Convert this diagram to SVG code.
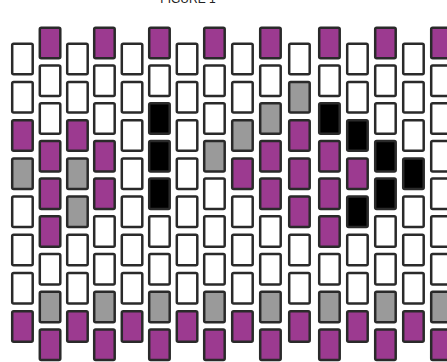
<svg xmlns="http://www.w3.org/2000/svg" width="447" height="362" viewBox="0 0 447 362">
<style>
rect{stroke:#2a2a2a;stroke-width:2.5;width:20.5px;height:30.5px;rx:1.5px}
.w{fill:#ffffff}
.p{fill:#9c3a90}
.g{fill:#9a9a9a}
.b{fill:#000000}
.t{font-family:"Liberation Sans",Arial,sans-serif;font-size:12px;fill:#222;text-anchor:middle}
</style>
<rect width="447" height="362" style="fill:#fff;stroke:none;width:447px;height:362px"/>
<text class="t" x="188" y="2.5">FIGURE 1</text>
<g id="col0"><rect class="w" x="12.2" y="43.8"/><rect class="w" x="12.2" y="82"/><rect class="p" x="12.2" y="120.2"/><rect class="g" x="12.2" y="158.4"/><rect class="w" x="12.2" y="196.6"/><rect class="w" x="12.2" y="234.8"/><rect class="w" x="12.2" y="273"/><rect class="p" x="12.2" y="311.2"/></g>
<g id="col1"><rect class="p" x="39.8" y="27.8"/><rect class="w" x="39.8" y="65.5"/><rect class="w" x="39.8" y="103.2"/><rect class="p" x="39.8" y="140.9"/><rect class="p" x="39.8" y="178.6"/><rect class="p" x="39.8" y="216.3"/><rect class="w" x="39.8" y="254"/><rect class="g" x="39.8" y="291.7"/><rect class="p" x="39.8" y="329.4"/></g>
<g id="col2"><rect class="w" x="67.2" y="43.8"/><rect class="w" x="67.2" y="82"/><rect class="p" x="67.2" y="120.2"/><rect class="g" x="67.2" y="158.4"/><rect class="g" x="67.2" y="196.6"/><rect class="w" x="67.2" y="234.8"/><rect class="w" x="67.2" y="273"/><rect class="p" x="67.2" y="311.2"/></g>
<g id="col3"><rect class="p" x="94.2" y="27.8"/><rect class="w" x="94.2" y="65.5"/><rect class="w" x="94.2" y="103.2"/><rect class="p" x="94.2" y="140.9"/><rect class="p" x="94.2" y="178.6"/><rect class="w" x="94.2" y="216.3"/><rect class="w" x="94.2" y="254"/><rect class="g" x="94.2" y="291.7"/><rect class="p" x="94.2" y="329.4"/></g>
<g id="col4"><rect class="w" x="121.8" y="43.8"/><rect class="w" x="121.8" y="82"/><rect class="w" x="121.8" y="120.2"/><rect class="w" x="121.8" y="158.4"/><rect class="w" x="121.8" y="196.6"/><rect class="w" x="121.8" y="234.8"/><rect class="w" x="121.8" y="273"/><rect class="p" x="121.8" y="311.2"/></g>
<g id="col5"><rect class="p" x="149.2" y="27.8"/><rect class="w" x="149.2" y="65.5"/><rect class="b" x="149.2" y="103.2"/><rect class="b" x="149.2" y="140.9"/><rect class="b" x="149.2" y="178.6"/><rect class="w" x="149.2" y="216.3"/><rect class="w" x="149.2" y="254"/><rect class="g" x="149.2" y="291.7"/><rect class="p" x="149.2" y="329.4"/></g>
<g id="col6"><rect class="w" x="176.8" y="43.8"/><rect class="w" x="176.8" y="82"/><rect class="w" x="176.8" y="120.2"/><rect class="w" x="176.8" y="158.4"/><rect class="w" x="176.8" y="196.6"/><rect class="w" x="176.8" y="234.8"/><rect class="w" x="176.8" y="273"/><rect class="p" x="176.8" y="311.2"/></g>
<g id="col7"><rect class="p" x="204.2" y="27.8"/><rect class="w" x="204.2" y="65.5"/><rect class="w" x="204.2" y="103.2"/><rect class="g" x="204.2" y="140.9"/><rect class="w" x="204.2" y="178.6"/><rect class="w" x="204.2" y="216.3"/><rect class="w" x="204.2" y="254"/><rect class="g" x="204.2" y="291.7"/><rect class="p" x="204.2" y="329.4"/></g>
<g id="col8"><rect class="w" x="232.2" y="43.8"/><rect class="w" x="232.2" y="82"/><rect class="g" x="232.2" y="120.2"/><rect class="p" x="232.2" y="158.4"/><rect class="w" x="232.2" y="196.6"/><rect class="w" x="232.2" y="234.8"/><rect class="w" x="232.2" y="273"/><rect class="p" x="232.2" y="311.2"/></g>
<g id="col9"><rect class="p" x="260.2" y="27.8"/><rect class="w" x="260.2" y="65.5"/><rect class="g" x="260.2" y="103.2"/><rect class="p" x="260.2" y="140.9"/><rect class="p" x="260.2" y="178.6"/><rect class="w" x="260.2" y="216.3"/><rect class="w" x="260.2" y="254"/><rect class="g" x="260.2" y="291.7"/><rect class="p" x="260.2" y="329.4"/></g>
<g id="col10"><rect class="w" x="289.2" y="43.8"/><rect class="g" x="289.2" y="82"/><rect class="p" x="289.2" y="120.2"/><rect class="p" x="289.2" y="158.4"/><rect class="p" x="289.2" y="196.6"/><rect class="w" x="289.2" y="234.8"/><rect class="w" x="289.2" y="273"/><rect class="p" x="289.2" y="311.2"/></g>
<g id="col11"><rect class="p" x="319.2" y="27.8"/><rect class="w" x="319.2" y="65.5"/><rect class="b" x="319.2" y="103.2"/><rect class="p" x="319.2" y="140.9"/><rect class="p" x="319.2" y="178.6"/><rect class="p" x="319.2" y="216.3"/><rect class="w" x="319.2" y="254"/><rect class="g" x="319.2" y="291.7"/><rect class="p" x="319.2" y="329.4"/></g>
<g id="col12"><rect class="w" x="347.2" y="43.8"/><rect class="w" x="347.2" y="82"/><rect class="b" x="347.2" y="120.2"/><rect class="p" x="347.2" y="158.4"/><rect class="b" x="347.2" y="196.6"/><rect class="w" x="347.2" y="234.8"/><rect class="w" x="347.2" y="273"/><rect class="p" x="347.2" y="311.2"/></g>
<g id="col13"><rect class="p" x="375.2" y="27.8"/><rect class="w" x="375.2" y="65.5"/><rect class="w" x="375.2" y="103.2"/><rect class="b" x="375.2" y="140.9"/><rect class="b" x="375.2" y="178.6"/><rect class="w" x="375.2" y="216.3"/><rect class="w" x="375.2" y="254"/><rect class="g" x="375.2" y="291.7"/><rect class="p" x="375.2" y="329.4"/></g>
<g id="col14"><rect class="w" x="403.2" y="43.8"/><rect class="w" x="403.2" y="82"/><rect class="w" x="403.2" y="120.2"/><rect class="b" x="403.2" y="158.4"/><rect class="w" x="403.2" y="196.6"/><rect class="w" x="403.2" y="234.8"/><rect class="w" x="403.2" y="273"/><rect class="p" x="403.2" y="311.2"/></g>
<g id="col15"><rect class="p" x="431.2" y="27.8"/><rect class="w" x="431.2" y="65.5"/><rect class="w" x="431.2" y="103.2"/><rect class="w" x="431.2" y="140.9"/><rect class="w" x="431.2" y="178.6"/><rect class="w" x="431.2" y="216.3"/><rect class="w" x="431.2" y="254"/><rect class="g" x="431.2" y="291.7"/><rect class="p" x="431.2" y="329.4"/></g>
</svg>
